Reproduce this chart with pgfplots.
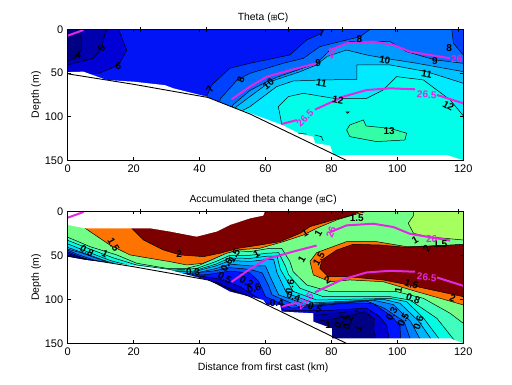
\documentclass[border=0pt]{standalone}
\usepackage{pgfplots}
\pgfplotsset{compat=1.18}
\usepackage{pgfplotstable}
\usepackage{fontspec}
\setmainfont{Liberation Sans}
\newfontfamily\djv{DejaVu Sans}
\definecolor{mag}{RGB}{226,40,226}
\definecolor{tA}{RGB}{0,0,130}
\definecolor{tB}{RGB}{0,0,175}
\definecolor{tC}{RGB}{0,0,215}
\definecolor{tD}{RGB}{0,20,245}
\definecolor{tE}{RGB}{0,65,255}
\definecolor{tF}{RGB}{0,110,255}
\definecolor{tG}{RGB}{0,155,255}
\definecolor{tH}{RGB}{0,195,255}
\definecolor{tI}{RGB}{0,235,255}
\definecolor{tJ}{RGB}{0,255,232}
\definecolor{tK}{RGB}{50,255,165}
\definecolor{bGreen}{RGB}{115,255,135}
\definecolor{bLight}{RGB}{165,255,95}
\definecolor{bOrange}{RGB}{255,115,0}
\definecolor{bMaroon}{RGB}{125,0,0}
\definecolor{sA}{RGB}{64,255,190}
\definecolor{sB}{RGB}{0,255,225}
\definecolor{sC}{RGB}{0,220,255}
\definecolor{sD}{RGB}{0,180,255}
\definecolor{sE}{RGB}{0,130,255}
\definecolor{sF}{RGB}{0,80,255}
\definecolor{sG}{RGB}{0,20,255}
\definecolor{sH}{RGB}{0,0,210}
\definecolor{sI}{RGB}{0,0,170}
\definecolor{sJ}{RGB}{0,0,130}
\pgfplotstableread{
x y
0 7.3
4.8 0.8
nan nan
49.7 80.2
55.3 65.6
60.4 54.2
68.4 45.8
75.5 38.9
nan nan
79.6 23.7
84.6 16
92.7 14.1
98.8 17.9
103.8 25.6
116 33.2
nan nan
}\isoA
\pgfplotstableread{
x y
64.9 108.4
69.5 104
nan nan
75 92
83.6 77.1
90.7 69.5
97.8 67.6
105.4 68.7
nan nan
112 75.2
120 84.7
}\isoB
\pgfplotstableread{
x y
-0.8 0
22 0
42 0
67 0
83.4 0
99.5 0
118.5 0
}\casts
\pgfplotsset{
 panel/.style={
  scale only axis, width=395.6pt, clip mode=individual, axis on top,
  xmin=0, xmax=120, ymin=0, ymax=150, y dir=reverse,
  xtick={0,20,40,60,80,100,120}, ytick={0,50,100,150},
  tick align=inside, major tick length=3pt,
  tick style={black,line width=0.5pt}, axis line style={line width=0.7pt},
  /pgf/number format/assume math mode=true,
  tick label style={font=\fontsize{11}{13}\selectfont},
  label style={font=\fontsize{10.5}{12}\selectfont},
  title style={font=\fontsize{10.4}{12}\selectfont, at={(axis description cs:0.494,1.04)}, anchor=center},
  ylabel style={at={(axis description cs:-0.08,0.5)}, anchor=center, rotate=0},
  xlabel style={at={(axis description cs:0.494,-0.185)}, anchor=center},
  x tick label style={yshift=-1pt}, y tick label style={xshift=-1pt},
 },
 c/.style={fill=#1, draw=black, line width=0.5pt},
}
\tikzset{
 lb/.style={font=\fontsize{10}{10}\selectfont\bfseries, text=black, inner sep=0pt},
 lm/.style={font=\fontsize{10}{10}\selectfont\bfseries, text=mag, inner sep=0pt},
}
\newcommand{\groundline}{\addplot[black,line width=0.9pt] coordinates {(0,51) (20,63) (42.5,78) (55.3,97) (84.5,150)};}
\newcommand{\isolines}{
 \addplot[mag,line width=2pt,unbounded coords=jump] table {\isoA};
 \addplot[mag,line width=2pt,unbounded coords=jump] table {\isoB};
 \addplot[only marks,mark=+,mark size=2.5pt,black,mark options={line width=0.6pt}] table {\casts};
}
\begin{document}
\begin{tikzpicture}[x=1pt,y=1pt]
\path[use as bounding box] (0,0) rectangle (512,385);
\begin{axis}[panel, at={(67.7pt,224.7pt)}, anchor=south west, height=131pt,
  ylabel={Depth (m)}, title={Theta ({\djv\fontsize{8}{8}\selectfont ⊞}C)}]
\addplot[fill=tD,draw=none] coordinates {(-5,-5) (125,-5) (125,200) (-5,200)} --cycle;
\addplot[c=tC] coordinates {(15.4,-5) (15.4,0) (17.9,23.7) (15.4,41) (9.8,50) (-5,55) (-5,-5)} --cycle;
\addplot[c=tB] coordinates {(12,-5) (12,0) (11.3,4.6) (10.3,21.8) (7.8,33.2) (0,40.8) (-5,42) (-5,-5)} --cycle;
\addplot[c=tA] coordinates {(3.5,-5) (3.5,4) (4.2,10) (4.2,24) (2.2,33) (0,36) (-5,36) (-5,-5)} --cycle;
\addplot[c=tE] coordinates {(42,78) (43.7,63.7) (49.2,44.6) (55.3,38.9) (67.4,29.4) (72.5,12.2) (77,4.6) (77.7,0) (77.7,-5) (125,-5) (125,200) (42,200)} --cycle;
\addplot[c=tF] coordinates {(46.2,80) (51.4,58) (55.3,50.4) (65.4,38.9) (71.5,33.2) (76.5,19.8) (82.6,14.1) (88.7,8.4) (91.7,0) (91.7,-5) (116.5,-5) (116.5,0) (117,16) (120,29.4) (125,35) (125,200) (46,200)} --cycle;
\addplot[c=tG] coordinates {(50,87) (55.3,70) (60.4,60) (63.4,55) (75.5,38.9) (79.6,23.7) (85.6,14.1) (97.8,14.1) (102.8,25.6) (111.4,35) (120,39) (125,40) (125,200) (50,200)} --cycle;
\addplot[c=tH] coordinates {(50,92) (55.3,77) (61.4,60) (70.5,48.5) (75.5,40.8) (78.6,31.3) (84.6,23.7) (90.7,29.4) (96.3,33.2) (105.9,38.9) (120,48.5) (125,50) (125,200) (50,200)} --cycle;
\addplot[c=tI] coordinates {(52,95) (55.3,88.5) (63.4,65.6) (68.4,59.2) (77.5,58) (87.7,57.3) (87.7,40.8) (97.8,40.8) (108.9,48.5) (120,61.8) (125,64) (125,200) (52,200)} --cycle;
\addplot[c=tJ] coordinates {(65,110) (63.9,88.5) (67,77) (71.5,73.3) (80.6,79) (90.7,79) (95.7,69.5) (99.8,54.2) (107.9,58) (116,80.9) (120,99) (125,105) (125,200) (65,200)} --cycle;
\addplot[c=tK] coordinates {(84.6,115.3) (85.6,109.5) (89.7,103.8) (90.5,110.7) (97.8,113.4) (102.8,119) (102.3,126.7) (93.7,128.6) (85.6,122.9)} --cycle;
\addplot[c=tI] coordinates {(84.4,94.5) (85.4,94.5) (84.9,96.2)} --cycle;
\addplot[fill=white,draw=none] coordinates {(-5,48.5) (0,49) (4.75,48.5) (11.8,58) (20,60) (29.5,64) (32,67.5) (42,77) (49,88) (55.3,96) (65,109.5) (70,119) (74.5,123) (75,130.5) (79.6,133) (80.6,144) (115,144) (120,150) (125,150) (125,200) (-5,200)} --cycle;
\addplot[black,line width=0.5pt] coordinates {(70,119) (72.5,120)};
\addplot[black,line width=0.5pt] coordinates {(75,121) (77,123) (77.5,128)};
\groundline
\isolines
\node[lb] at (axis cs:3.2,29.4) {4};
\node[lb,rotate=60] at (axis cs:10.3,21.8) {5};
\node[lb] at (axis cs:15.4,42) {6};
\node[lb,rotate=60] at (axis cs:43.2,68.7) {7};
\node[lb,rotate=70] at (axis cs:52.5,58) {8};
\node[lb,rotate=40] at (axis cs:60.9,63) {10};
\node[lb,rotate=-10] at (axis cs:77,61.8) {11};
\node[lb,rotate=-10] at (axis cs:82,80.9) {12};
\node[lb] at (axis cs:97.5,117) {13};
\node[lb,rotate=-10] at (axis cs:96.2,35) {10};
\node[lb,rotate=-10] at (axis cs:108.9,51) {11};
\node[lb,rotate=-30] at (axis cs:115.5,87.8) {12};
\node[lb] at (axis cs:76,39) {9};
\node[lb] at (axis cs:111.4,35.9) {9};
\node[lb] at (axis cs:115.7,21.8) {8};
\node[lb] at (axis cs:88.5,11) {8};
\node[lb] at (axis cs:77,3.8) {7};
\node[lm,rotate=70] at (axis cs:79.9,27.5) {26};
\node[lm] at (axis cs:118,34) {26};
\node[lm,rotate=-5] at (axis cs:108.9,75) {26.5};
\node[lm,rotate=45] at (axis cs:72,102) {26.5};
\end{axis}
\begin{axis}[panel, at={(67.7pt,41.7pt)}, anchor=south west, height=132pt,
  ylabel={Depth (m)}, xlabel={Distance from first cast (km)},
  title={Accumulated theta change ({\djv\fontsize{8}{8}\selectfont ⊞}C)}]
\addplot[fill=bGreen,draw=none] coordinates {(-5,-5) (125,-5) (125,200) (-5,200)} --cycle;
\addplot[c=bLight] coordinates {(104.9,-5) (104.9,4.9) (103.3,13.6) (104.9,25) (108.9,28.8) (120,32.6) (125,32.6) (125,-5)} --cycle;
\addplot[c=bOrange] coordinates {(5.3,19.3) (12.8,38.3) (18.9,49.6) (31,57.2) (36.1,61) (41.2,59) (47.2,49.6) (51.3,43.9) (58.3,42) (65.4,34.5) (71.5,26.9) (75.5,19.3) (81.6,9.8) (86.6,4.2) (90.7,0) (90.7,-5) (5.3,-5)} --cycle;
\addplot[c=bMaroon] coordinates {(19.4,19.3) (23,32.6) (29,43.9) (34.1,49.6) (41.2,51.5) (46.2,47.7) (51.8,42) (58.3,38.3) (64.4,34.5) (70.5,25) (73.5,17.4) (80.6,9.8) (85.6,5) (88.7,0) (88.7,-5) (19.4,-5)} --cycle;
\addplot[c=bOrange] coordinates {(73.5,57) (75.5,47) (84.6,34.5) (93.7,34.5) (102.8,40.2) (120,38.3) (125,38) (125,108) (120,106.4) (105.9,91.3) (95.7,80) (85.6,78) (79.6,80) (74.5,72.3)} --cycle;
\addplot[c=bMaroon] coordinates {(76.5,64.8) (77.1,55.3) (81.6,44) (86.6,37.5) (94.7,38.3) (102.8,41) (120,37.5) (125,37.5) (125,97) (120,97) (105.9,85.6) (95.7,78) (84.6,74.2) (79,74.2)} --cycle;
\addplot[c=sA] coordinates {(-5,28) (0,29.4) (6.8,40.2) (14.9,49.6) (20.9,59) (30,64.8) (36.1,64.8) (40.1,61) (48.2,47.7) (51.3,44.8) (55.3,45.8) (61.4,42) (64.9,42) (67.4,57.2) (68.4,68.6) (72.5,83.7) (79.6,91.3) (99.8,91.3) (107.9,98.9) (116,115.9) (120,127.3) (125,140) (125,200) (-5,200)} --cycle;
\addplot[c=sB] coordinates {(-5,32) (0,33) (6.8,43) (13.9,53) (20.9,61) (32,66.7) (39.1,65) (45,57) (49.2,50) (55.3,50) (60.4,47.7) (64,47) (66,62) (67,72) (70.5,87.5) (77.5,97) (97.8,97) (103.8,100.8) (112,121.6) (118,150) (125,200) (-5,200)} --cycle;
\addplot[c=sC] coordinates {(-5,36) (0,37) (6,46) (13,56) (20,63) (30,67.5) (38,68) (45,60) (49.2,53) (55.3,53.5) (60.4,51) (63.5,51) (64.5,66) (68.4,91) (75.5,100.8) (97.8,99) (102.8,102.7) (108,121.6) (112.9,146) (112.9,200) (-5,200)} --cycle;
\addplot[c=sD] coordinates {(-5,40) (0,41) (6,49) (12,57) (18,63) (30,68) (38,69) (45,62) (49.2,56) (55.3,57) (60,55) (62.5,55) (63.5,70) (66.4,93) (74.5,104) (95.7,100) (100.8,104.5) (106.5,125) (110.4,146) (110.4,200) (-5,200)} --cycle;
\addplot[c=sE] coordinates {(-5,43) (0,43) (4,47) (10,55) (18,66) (32,70) (38,71) (45,65) (49.2,60) (55.3,62) (60,62) (61.5,75) (64,95) (72.5,106) (92.7,101) (98.8,106) (104,125) (107,146) (107,200) (-5,200)} --cycle;
\addplot[c=sF] coordinates {(-5,44) (0,44) (3,49) (10,58) (35,71) (44,68) (49.2,64) (55.3,66) (59,70) (61,85) (62,95) (70,108) (90.7,102) (96,110) (102,125) (104,146) (104,200) (-5,200)} --cycle;
\addplot[c=sG] coordinates {(-5,46) (0,46) (4,52) (10,60) (36,73) (42,72) (49.2,68) (55.3,70) (58,80) (60,97) (68,110) (85.6,104) (92.7,105) (97.8,118) (100.8,130) (101,146) (101,200) (-5,200)} --cycle;
\addplot[c=sH] coordinates {(-5,48) (0,48) (5,54) (30,70) (37,75) (41,74) (46,77) (52,85) (60,104) (66,112.5) (78,113) (90.7,110) (94.7,120) (96.8,130) (97.5,146) (97.5,200) (-5,200)} --cycle;
\addplot[c=sI] coordinates {(45,80) (60,110) (66,115) (76,118) (87.7,113) (92,125) (93.7,146) (93.7,200) (45,200)} --cycle;
\addplot[c=sJ] coordinates {(75.5,125) (79.6,123) (86.6,118) (90,114) (93,122) (92.7,146) (92.7,200) (75,200)} --cycle;
\addplot[fill=white,draw=none] coordinates {(-5,51.5) (0,51.5) (5.3,55.3) (18.9,61) (31,66.7) (43.2,79) (49.2,91.3) (55.3,97) (59.3,100.8) (60.4,106.4) (64.4,106.4) (64.9,114) (74.5,115.9) (74.5,125.4) (80.1,133) (80.1,144.3) (116,144.3) (120,150) (125,150) (125,200) (-5,200)} --cycle;
\addplot[fill=white,draw=none] coordinates {(-5,-5) (-5,15.5) (0,15.5) (5.3,19.3) (19.4,19.3) (25,19.3) (31,23) (39.1,28.8) (45.2,23) (49.2,15.5) (55.3,8) (59.3,4.9) (59.8,0.4) (59.8,-5)} --cycle;
\groundline
\isolines
\node[lb,rotate=-60] at (axis cs:13.9,38.3) {1.5};
\node[lb,rotate=-30] at (axis cs:5.8,45) {0.8};
\node[lb,rotate=-30] at (axis cs:11.3,48.5) {1};
\node[lb] at (axis cs:33.8,49) {2};
\node[lb] at (axis cs:38,69.3) {0.3};
\node[lb,rotate=60] at (axis cs:48.2,61) {0.6};
\node[lb,rotate=60] at (axis cs:50.5,50.8) {1.5};
\node[lb,rotate=30] at (axis cs:57.3,49) {1};
\node[lb,rotate=-30] at (axis cs:47.7,76) {0.5};
\node[lb,rotate=-30] at (axis cs:54.3,80.7) {0.2};
\node[lb,rotate=30] at (axis cs:72,25) {1};
\node[lb,rotate=60] at (axis cs:76,25) {1};
\node[lb] at (axis cs:87.7,8) {1.5};
\node[lb,rotate=60] at (axis cs:71,55) {1};
\node[lb,rotate=60] at (axis cs:76.2,54) {1.5};
\node[lb,rotate=30] at (axis cs:78.8,78) {2};
\node[lb,rotate=-20] at (axis cs:104.3,83) {1.5};
\node[lb,rotate=80] at (axis cs:100.3,90) {1};
\node[lb,rotate=-20] at (axis cs:104.8,99) {0.8};
\node[lb,rotate=80] at (axis cs:67.4,85.6) {0.6};
\node[lb,rotate=-20] at (axis cs:68.5,97) {0.4};
\node[lb,rotate=-20] at (axis cs:75,109.5) {0.5};
\node[lb,rotate=60] at (axis cs:98.3,117) {0.3};
\node[lb,rotate=60] at (axis cs:101.8,123.5) {0.5};
\node[lb,rotate=70] at (axis cs:106.4,127) {0.6};
\node[lb] at (axis cs:79,129) {1};
\node[lb,rotate=60] at (axis cs:82.6,125) {0.1};
\node[lb,rotate=70] at (axis cs:85.1,127) {0.2};
\node[lb,rotate=70] at (axis cs:88.2,133) {1};
\node[lb,rotate=60] at (axis cs:108.9,42) {2};
\node[lb] at (axis cs:113,37) {1.5};
\node[lb,rotate=30] at (axis cs:105.4,32.6) {1};
\node[lb,rotate=-20] at (axis cs:116.8,99) {2};
\node[lb,rotate=20] at (axis cs:56.5,87.5) {0.6};
\node[lb] at (axis cs:63.4,104.5) {0.4};
\node[lm,rotate=70] at (axis cs:79.9,24) {26};
\node[lm] at (axis cs:110.4,31) {26};
\node[lm,rotate=-5] at (axis cs:108.9,75) {26.5};
\node[lm,rotate=45] at (axis cs:72,102) {26.5};
\end{axis}
\end{tikzpicture}
\end{document}
